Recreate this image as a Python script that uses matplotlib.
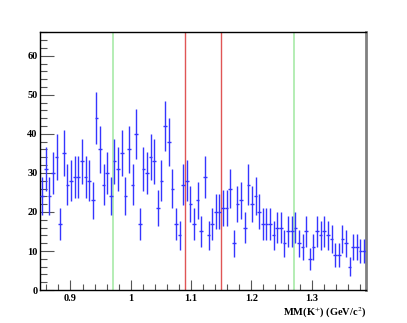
import numpy as np
import matplotlib
matplotlib.use("Agg")
import matplotlib.pyplot as plt
from matplotlib.ticker import MultipleLocator

# histogram: 90 bins from 0.85 to 1.39 GeV/c^2
x_lo, x_hi, n_bins = 0.85, 1.39, 90
counts = [24, 31, 24, 30, 34, 17, 35, 27, 28, 29,
          29, 33, 29, 28, 23, 44, 36, 27, 30, 24,
          33, 31, 35, 24, 36, 27, 40, 17, 31, 30,
          34, 33, 21, 28, 42, 38, 26, 17, 14, 27,
          28, 22, 17, 23, 15, 29, 14, 17, 20, 20,
          21, 21, 26, 12, 22, 23, 16, 27, 22, 24,
          20, 17, 17, 17, 14, 16, 16, 12, 15, 15,
          16, 12, 11, 15, 8, 11, 15, 14, 15, 14,
          13, 9, 9, 13, 12, 6, 11, 11, 10, 10]
green_cuts = [0.97, 1.27]
red_cuts = [1.09, 1.15]

plt.rcParams['font.family'] = ['Liberation Serif', 'DejaVu Serif']
plt.rcParams['mathtext.fontset'] = 'stix'

edges = np.linspace(x_lo, x_hi, n_bins + 1)
centers = 0.5 * (edges[:-1] + edges[1:])
half_w = 0.5 * (edges[1] - edges[0])
y = np.array(counts, dtype=float)

fig = plt.figure(figsize=(4.07, 3.23), dpi=100)
ax = fig.add_axes([0.099, 0.102, 0.800, 0.798])

ax.errorbar(centers, y, yerr=np.sqrt(y), xerr=half_w, fmt='none',
            ecolor='#3535ff', elinewidth=1.0, capsize=0, zorder=3)

for c in green_cuts:
    ax.axvline(c, color='#a8eaa8', lw=1.2, zorder=2)
for c in red_cuts:
    ax.axvline(c, color='#e05555', lw=1.0, zorder=2)

ax.set_xlim(x_lo, x_hi)
ax.set_ylim(0, 66)

ax.xaxis.set_major_locator(MultipleLocator(0.1))
ax.xaxis.set_minor_locator(MultipleLocator(0.02))
ax.yaxis.set_major_locator(MultipleLocator(10))
ax.yaxis.set_minor_locator(MultipleLocator(2))
ax.set_xticks([0.9, 1.0, 1.1, 1.2, 1.3])
ax.set_xticklabels(['0.9', '1', '1.1', '1.2', '1.3'])

ax.tick_params(which='both', direction='in', top=False, right=False,
               color='#555555', width=0.8)
ax.tick_params(axis='y', which='major', length=10, pad=2)
ax.tick_params(axis='y', which='minor', length=5)
ax.tick_params(axis='x', which='major', length=7, pad=3)
ax.tick_params(axis='x', which='minor', length=4)
for lab in ax.get_xticklabels() + ax.get_yticklabels():
    lab.set_fontweight('bold')
    lab.set_fontsize(7.5)

for side in ['top', 'left', 'bottom']:
    ax.spines[side].set_color('black')
    ax.spines[side].set_linewidth(1.0)
ax.spines['right'].set_color('#808080')
ax.spines['right'].set_linewidth(2.0)

ax.set_xlabel(r'MM(K$^{+}$) (GeV/c$^{2}$)', fontsize=7.5, fontweight='bold',
              loc='right', labelpad=2)

fig.savefig('out.png', dpi=100, facecolor='white')
